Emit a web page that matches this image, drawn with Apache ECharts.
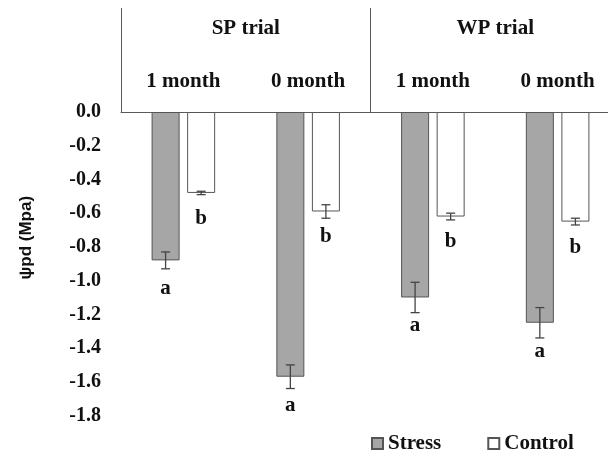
<!DOCTYPE html>
<html><head><meta charset="utf-8">
<script src="https://cdn.jsdelivr.net/npm/echarts@6/dist/echarts.min.js"></script>
<style>html,body{margin:0;padding:0;background:#fff}#c{width:608px;height:455px}</style>
</head><body><div id="c"></div>
<script>
// ---- data ----
const months = ['1 month', '0 month', '1 month', '0 month'];
const trials = ['SP trial', 'WP trial'];
const stress = [-0.88, -1.57, -1.10, -1.25];
const stressErr = [0.05, 0.07, 0.09, 0.09];
const control = [-0.48, -0.59, -0.62, -0.65];
const controlErr = [0.01, 0.04, 0.02, 0.02];
const stressLetters = ['a', 'a', 'a', 'a'];
const controlLetters = ['b', 'b', 'b', 'b'];
const yMin = -1.8, yMax = 0, yStep = 0.2;
const seriesNames = ['Stress', 'Control'];
const yName = 'ψpd (Mpa)';

// ---- style ----
const SERIF = '"Liberation Serif", "Times New Roman", serif';
const TXT = '#111';
const LINE = '#5a5a5a';
const BAR_W = 28, BAR_GAP = 0.27;

function errSeries(name, vals, errs, side) {
  return {
    name: name, type: 'custom', xAxisIndex: 0, yAxisIndex: 0, z: 5,
    data: vals.map((v, i) => [i, v, errs[i]]),
    renderItem: function (params, api) {
      const cat = api.value(0), v = api.value(1), e = api.value(2);
      const c = api.coord([cat, v]);
      const x = c[0] + side * (BAR_W * (1 + BAR_GAP)) / 2;
      const hi = api.coord([cat, v + e])[1];
      const lo = api.coord([cat, v - e])[1];
      const cap = 4.5;
      const st = { stroke: '#444', lineWidth: 1.3 };
      return { type: 'group', children: [
        { type: 'line', shape: { x1: x, y1: hi, x2: x, y2: lo }, style: st },
        { type: 'line', shape: { x1: x - cap, y1: hi, x2: x + cap, y2: hi }, style: st },
        { type: 'line', shape: { x1: x - cap, y1: lo, x2: x + cap, y2: lo }, style: st }
      ]};
    }
  };
}

const chart = echarts.init(document.getElementById('c'), null, { renderer: 'canvas' });
chart.setOption({
  animation: false,
  backgroundColor: '#fff',
  grid: [
    { left: 121, top: 112, width: 499, height: 303.5, outerBoundsMode: 'none', containLabel: false },
    { left: 121, top: 8, width: 499, height: 104, outerBoundsMode: 'none', containLabel: false }
  ],
  legend: {
    data: seriesNames, left: 371, top: 433, icon: 'rect', padding: 0,
    itemWidth: 11, itemHeight: 11, itemGap: 46,
    textStyle: { fontFamily: SERIF, fontWeight: 'bold', fontSize: 21, color: TXT }
  },
  xAxis: [
    { gridIndex: 0, type: 'category', data: months, position: 'top',
      axisLine: { show: true, onZero: false, lineStyle: { color: LINE, width: 1 } },
      axisTick: { show: false },
      axisLabel: { margin: 20, fontFamily: SERIF, fontWeight: 'bold', fontSize: 21, color: TXT },
      splitLine: { show: false } },
    { gridIndex: 1, type: 'category', data: trials, position: 'top',
      axisLine: { show: false, onZero: false },
      axisTick: { show: true, inside: true, length: 104, lineStyle: { color: LINE, width: 1 } },
      axisLabel: { inside: true, margin: 10, fontFamily: SERIF, fontWeight: 'bold', fontSize: 21, color: TXT },
      splitLine: { show: false } }
  ],
  yAxis: [
    { gridIndex: 0, type: 'value', min: yMin, max: yMax, interval: yStep,
      axisLine: { show: false }, axisTick: { show: false }, splitLine: { show: false },
      axisLabel: { margin: 20, fontFamily: SERIF, fontWeight: 'bold', fontSize: 20, color: TXT,
        formatter: v => v.toFixed(1) },
      name: yName, nameLocation: 'middle', nameRotate: 90, nameGap: 86,
      nameTextStyle: { fontFamily: '"Liberation Sans", Arial, sans-serif', fontWeight: 'bold', fontSize: 17, color: TXT,
        padding: [0, 0, 0, 52] } },
    { gridIndex: 1, type: 'value', show: false, min: 0, max: 1 }
  ],
  series: [
    { name: seriesNames[0], type: 'bar', xAxisIndex: 0, yAxisIndex: 0, data: stress,
      barWidth: BAR_W, barGap: (BAR_GAP * 100) + '%',
      itemStyle: { color: '#a6a6a6', borderColor: '#555', borderWidth: 1 },
      label: { show: true, position: 'bottom', distance: 18, fontFamily: SERIF, fontWeight: 'bold', fontSize: 21, color: TXT,
        formatter: p => stressLetters[p.dataIndex] } },
    { name: seriesNames[1], type: 'bar', xAxisIndex: 0, yAxisIndex: 0, data: control,
      barWidth: BAR_W,
      itemStyle: { color: '#ffffff', borderColor: '#555', borderWidth: 1 },
      label: { show: true, position: 'bottom', distance: 15, fontFamily: SERIF, fontWeight: 'bold', fontSize: 21, color: TXT,
        formatter: p => controlLetters[p.dataIndex] } },
    errSeries('Stress error', stress, stressErr, -1),
    errSeries('Control error', control, controlErr, 1)
  ]
});
</script></body></html>
